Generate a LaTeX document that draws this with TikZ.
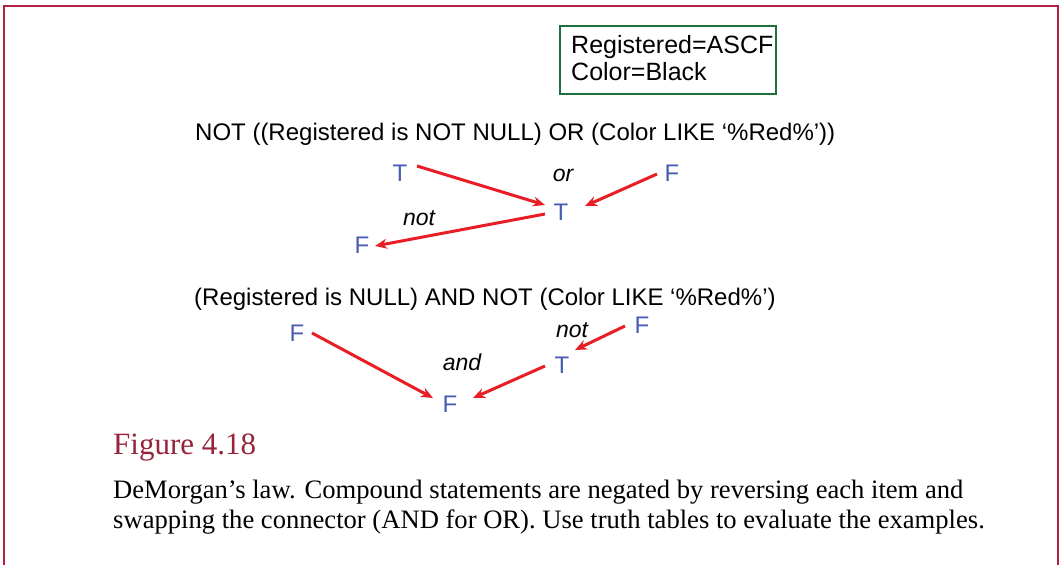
\documentclass[tikz,border=0pt]{standalone}
\usepackage{fontspec}
\setmainfont{Liberation Serif}
\newfontfamily\arialfont{Liberation Sans}
\usetikzlibrary{arrows.meta,calc}
\definecolor{framered}{RGB}{178,34,62}
\definecolor{boxgreen}{RGB}{28,112,60}
\definecolor{valblue}{RGB}{72,92,178}
\definecolor{arrowred}{RGB}{232,30,38}
\definecolor{figred}{RGB}{150,36,58}
\tikzset{
  val/.style={text=valblue, font=\arialfont\fontsize{24}{24}\selectfont, inner sep=0pt},
  op/.style={font=\arialfont\itshape\fontsize{23}{23}\selectfont, inner sep=0pt},
  expr/.style={font=\arialfont\fontsize{24}{24}\selectfont, inner sep=0pt, anchor=base west},
  rowtext/.style={font=\arialfont\fontsize{25}{25}\selectfont, inner sep=0pt, anchor=base west},
  captext/.style={font=\fontsize{26.6}{30}\selectfont, inner sep=0pt, anchor=base west},
  link/.style={draw=arrowred, line width=3pt, -{Stealth[length=12pt,width=10pt]}}
}
\begin{document}
\begin{tikzpicture}[x=1pt,y=-1pt]
\useasboundingbox (0,0) rectangle (1061,565);
% page frame, open at the bottom
\draw[framered, line width=1.6pt] (4,570) -- (4,6) -- (1058,6) -- (1058,570);

% current row values
\node[draw=boxgreen, line width=2pt, minimum width=216pt, minimum height=68pt, anchor=north west, inner sep=0pt]
  (row) at (559,25) {};
\node[rowtext] (reg) at (571,53) {Registered=ASCF};
\node[rowtext] (col) at (571,80) {Color=Black};

% first expression
\node[expr] (e1) at (195,140) {NOT ((Registered is NOT NULL) OR (Color LIKE ‘\%Red\%’))};
\node[val] (t1) at (400,173) {T};
\node[val] (f1) at (672,173) {F};
\node[val] (t2) at (561,212) {T};
\node[val] (f2) at (362,245) {F};
\node[op] (or) at (563,175) {or};
\node[op] (not1) at (419,218) {not};
\draw[link] ($(t1)+(17,-7)$) -- ($(t2)+(-16,-7)$);
\draw[link] ($(f1)+(-15,1)$) -- ($(t2)+(24,-6)$);
\draw[link] ($(t2)+(-16,2)$) -- ($(f2)+(13,1)$);

% second expression
\node[expr] (e2) at (194,305) {(Registered is NULL) AND NOT (Color LIKE ‘\%Red\%’)};
\node[val] (f3) at (297,333) {F};
\node[val] (f4) at (642,325) {F};
\node[val] (t3) at (562,365) {T};
\node[val] (f5) at (450,404) {F};
\node[op] (not2) at (572,330) {not};
\node[op] (and) at (462,362) {and};
\draw[link] ($(f3)+(15,0)$) -- ($(f5)+(-17,-6)$);
\draw[link] ($(f4)+(-17,1)$) -- ($(t3)+(13,-15)$);
\draw[link] ($(t3)+(-17,1)$) -- ($(f5)+(23,-6)$);

% caption
\node[anchor=base west, inner sep=0pt, text=figred, font=\fontsize{31}{31}\selectfont] (fig) at (113,454) {Figure 4.18};
\node[captext] (cap1) at (113,498) {DeMorgan’s law. Compound statements are negated by reversing each item and};
\node[captext] (cap2) at (113,528) {swapping the connector (AND for OR). Use truth tables to evaluate the examples.};
\end{tikzpicture}
\end{document}
